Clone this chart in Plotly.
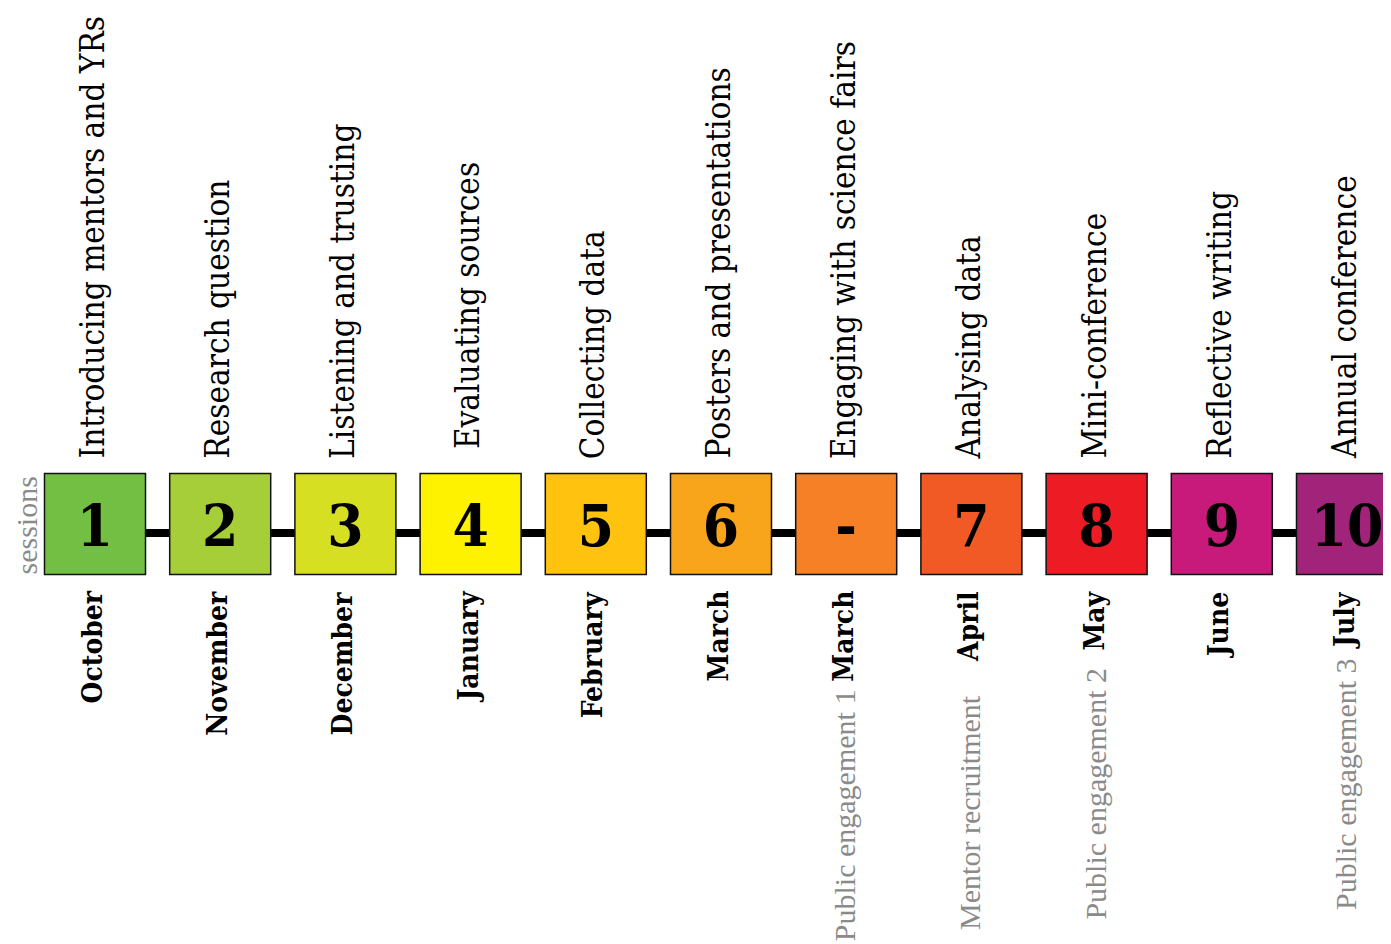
import plotly.graph_objects as go

# ---- data ----
session_labels = ["1", "2", "3", "4", "5", "6", "-", "7", "8", "9", "10"]
topics = [
    "Introducing mentors and YRs",
    "Research question",
    "Listening and trusting",
    "Evaluating sources",
    "Collecting data",
    "Posters and presentations",
    "Engaging with science fairs",
    "Analysing data",
    "Mini-conference",
    "Reflective writing",
    "Annual conference",
]
months = ["October", "November", "December", "January", "February", "March",
          "March", "April", "May", "June", "July"]
notes = ["", "", "", "", "", "", "Public engagement 1", "Mentor recruitment",
         "Public engagement 2", "", "Public engagement 3"]
box_colors = ["#72bf44", "#a6ce39", "#d7df23", "#fff200", "#ffc20e", "#f9a51b",
              "#f58025", "#f15a24", "#ed1c24", "#c81a7a", "#a2237a"]

# ---- layout constants (screen pixels on the vertical layout axis) ----
W, H = 1391, 944
OFF = 8               # page body margin
STEP = 125.2          # px between session centres
FIRST = 95            # px centre of first box
ROW_Y = 524           # centre of boxes
NUM_Y = 531           # centre of the numbers
LINE_Y = 533          # connecting line
TOPIC_BOTTOM = 461
TOPIC_BOTTOM_ADJ = {3: 451}
MONTH_TOP = 589
NOTE_BOTTOM = {6: 943, 7: 932, 8: 922, 10: 912}

idx = list(range(len(session_labels)))

fig = go.Figure()

# connecting line
fig.add_trace(go.Scatter(
    x=[idx[0], idx[-1] + 1], y=[LINE_Y, LINE_Y], mode="lines",
    line=dict(color="black", width=8), hoverinfo="skip", showlegend=False))

# boxes
fig.add_trace(go.Scatter(
    x=idx, y=[ROW_Y] * len(idx), mode="markers",
    marker=dict(symbol="square", size=101, color=box_colors,
                line=dict(color="#111111", width=1.5)),
    showlegend=False, hoverinfo="skip", cliponaxis=False))

# numbers
fig.add_trace(go.Scatter(
    x=idx, y=[NUM_Y] * len(idx), mode="text",
    text=session_labels, textposition="middle center",
    textfont=dict(family="DejaVu Serif Condensed", size=58, color="black",
                  weight="bold"),
    showlegend=False, hoverinfo="skip", cliponaxis=False))

ann = []
for i in idx:
    ann.append(dict(
        x=i, y=TOPIC_BOTTOM_ADJ.get(i, TOPIC_BOTTOM), xref="x", yref="y",
        text=topics[i], textangle=-90, showarrow=False,
        xanchor="center", yanchor="bottom", xshift=-3,
        font=dict(family="DejaVu Serif Condensed", size=33, color="black")))
    ann.append(dict(
        x=i, y=MONTH_TOP, xref="x", yref="y",
        text=months[i], textangle=-90, showarrow=False,
        xanchor="center", yanchor="top", xshift=-3,
        font=dict(family="DejaVu Serif Condensed", size=28, color="black",
                  weight="bold")))
    if notes[i]:
        ann.append(dict(
            x=i, y=NOTE_BOTTOM[i], xref="x", yref="y",
            text=notes[i], textangle=-90, showarrow=False,
            xanchor="center", yanchor="bottom", xshift=-2,
            font=dict(family="Liberation Serif", size=30, color="#8a8a8a")))

ann.append(dict(
    x=0, y=ROW_Y + 2, xref="paper", yref="y", text="sessions", textangle=-90,
    showarrow=False, xanchor="left", yanchor="middle", borderpad=0,
    font=dict(family="Liberation Serif", size=30, color="#8a8a8a")))

fig.update_layout(
    width=W, height=H, margin=dict(l=0, r=0, t=0, b=0),
    paper_bgcolor="white", plot_bgcolor="white",
    xaxis=dict(range=[(OFF - FIRST) / STEP, (W + OFF - FIRST) / STEP],
               visible=False, fixedrange=True),
    yaxis=dict(range=[H + OFF, OFF], visible=False, fixedrange=True),
    annotations=ann, showlegend=False)

fig.write_html("out.html")
